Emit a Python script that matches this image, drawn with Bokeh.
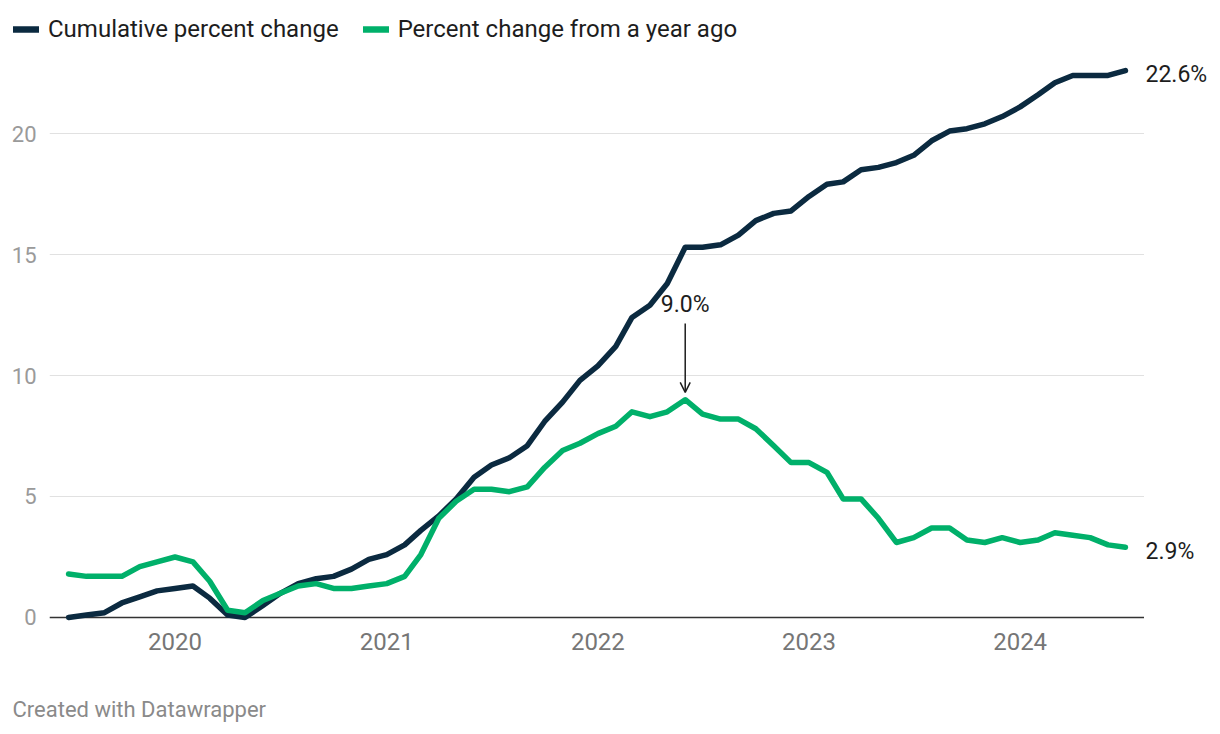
import pandas as pd
from bokeh.plotting import figure
from bokeh.layouts import column, row
from bokeh.models import (Range1d, FixedTicker, DatetimeTickFormatter, Span, Label,
                          Arrow, OpenHead, Legend, LegendItem, ColumnDataSource)
from bokeh.core.properties import value
from bokeh.embed import file_html
from bokeh.resources import INLINE

# ---------------- data ----------------
start_month = "2019-07-01"
cumulative = [0.0, 0.1, 0.2, 0.6, 0.85, 1.1, 1.2, 1.3, 0.8, 0.1,
              0.0, 0.5, 1.0, 1.4, 1.6, 1.7, 2.0, 2.4, 2.6, 3.0,
              3.6, 4.2, 4.9, 5.8, 6.3, 6.6, 7.1, 8.1, 8.9, 9.8,
              10.4, 11.2, 12.4, 12.9, 13.8, 15.3, 15.3, 15.4, 15.8, 16.4,
              16.7, 16.8, 17.4, 17.9, 18.0, 18.5, 18.6, 18.8, 19.1, 19.7,
              20.1, 20.2, 20.4, 20.7, 21.1, 21.6, 22.1, 22.4, 22.4, 22.4,
              22.6]
year_ago = [1.8, 1.7, 1.7, 1.7, 2.1, 2.3, 2.5, 2.3, 1.5, 0.3,
            0.2, 0.7, 1.0, 1.3, 1.4, 1.2, 1.2, 1.3, 1.4, 1.7,
            2.6, 4.1, 4.8, 5.3, 5.3, 5.2, 5.4, 6.2, 6.9, 7.2,
            7.6, 7.9, 8.5, 8.3, 8.5, 9.0, 8.4, 8.2, 8.2, 7.8,
            7.1, 6.4, 6.4, 6.0, 4.9, 4.9, 4.1, 3.1, 3.3, 3.7,
            3.7, 3.2, 3.1, 3.3, 3.1, 3.2, 3.5, 3.4, 3.3, 3.0,
            2.9]
series_names = ["Cumulative percent change", "Percent change from a year ago"]
tick_years = [2020, 2021, 2022, 2023, 2024]
y_ticks = [0, 5, 10, 15, 20]
footer_text = "Created with Datawrapper"

# ---------------- setup ----------------
DARK = "#0b2a40"
GREEN = "#00b06a"
FONT = "Roboto"
colors = [DARK, GREEN]
LW = 5.5

months = pd.date_range(start_month, periods=len(cumulative), freq="MS")
src = ColumnDataSource(dict(month=months, cum=cumulative, yoy=year_ago))

pad = pd.Timedelta(days=33)
x0 = (months[0] - pad).to_pydatetime()
x1 = (months[-1] + pad).to_pydatetime()
yr = Range1d(-0.62, 23.43)

def bare(fig):
    fig.outline_line_color = None
    fig.background_fill_color = "white"
    fig.border_fill_color = "white"
    return fig

# ---------------- legend strip ----------------
lg = bare(figure(width=1220, height=50, x_range=(0, 1220), y_range=(0, 50),
                 x_axis_location=None, y_axis_location=None,
                 output_backend="svg", toolbar_location=None,
                 min_border=0))
lg.grid.visible = False
# renderers that only lend their style to the legend (their points lie off-range)
leg_renderers = [lg.line(x=[-50, -40], y=[-50, -50], line_color=c, line_width=6.5,
                         line_cap="round")
                 for c in colors]
legend = Legend(items=[LegendItem(label=n, renderers=[r])
                       for n, r in zip(series_names, leg_renderers)],
                orientation="horizontal", location=(13, 7),
                border_line_color=None, background_fill_alpha=0,
                padding=0, margin=0, spacing=24,
                glyph_width=26, glyph_height=20, label_standoff=9,
                label_text_font=FONT, label_text_font_size="24px",
                label_text_color="#1d1d1d")
lg.add_layout(legend)

# ---------------- main chart ----------------
p = bare(figure(width=1144, height=634, x_axis_type="datetime",
                x_range=Range1d(x0, x1), y_range=yr,
                output_backend="svg", toolbar_location=None,
                min_border_left=49, min_border_right=0,
                min_border_top=0, min_border_bottom=52))

p.xgrid.grid_line_color = None
p.ygrid.grid_line_color = "#e1e1e1"
p.ygrid.grid_line_width = 1

p.yaxis.ticker = FixedTicker(ticks=y_ticks)
p.yaxis.axis_line_color = None
p.yaxis.major_tick_line_color = None
p.yaxis.minor_tick_line_color = None
p.yaxis.major_tick_out = 0
p.yaxis.major_label_standoff = 13
p.yaxis.major_label_text_font = FONT
p.yaxis.major_label_text_font_size = "22px"
p.yaxis.major_label_text_color = "#9a9a9a"

year_ticks = [pd.Timestamp(f"{y}-01-01").value / 1e6 for y in tick_years]
p.xaxis.ticker = FixedTicker(ticks=year_ticks)
p.xaxis.formatter = DatetimeTickFormatter(years="%Y", months="%Y", days="%Y",
                                          hours="%Y", minutes="%Y", seconds="%Y")
p.xaxis.axis_line_color = None
p.xaxis.major_tick_line_color = None
p.xaxis.minor_tick_line_color = None
p.xaxis.major_tick_out = 0
p.xaxis.major_label_standoff = 0
p.xaxis.major_label_text_font = FONT
p.xaxis.major_label_text_font_size = "24px"
p.xaxis.major_label_text_color = "#767676"

p.add_layout(Span(location=0, dimension="width", line_color="#333333",
                  line_width=1.5, level="underlay"))

r1 = p.line("month", "cum", source=src, line_color=DARK, line_width=LW,
            line_join="round", line_cap="round")
r2 = p.line("month", "yoy", source=src, line_color=GREEN, line_width=LW,
            line_join="round", line_cap="round")

# peak annotation
peak_i = max(range(len(year_ago)), key=lambda i: year_ago[i])
peak_x = months[peak_i].to_pydatetime()
peak_v = year_ago[peak_i]
p.add_layout(Arrow(x_start=peak_x, y_start=peak_v + 3.15,
                   x_end=peak_x, y_end=peak_v + 0.3,
                   line_color="#1d1d1d", line_width=1.5,
                   end=OpenHead(size=10, line_color="#1d1d1d", line_width=1.5)))
p.add_layout(Label(x=peak_x, y=peak_v + 3.95, text=f"{peak_v:.1f}%",
                   text_align="center", text_baseline="middle",
                   text_font=FONT, text_font_size="23px",
                   text_color="#1d1d1d"))

# ---------------- end-value labels (shares the y scale) ----------------
rt = bare(figure(width=76, height=634, x_range=(0, 76), y_range=yr,
                 x_axis_location=None, y_axis_location=None,
                 output_backend="svg", toolbar_location=None,
                 min_border_left=0, min_border_right=0,
                 min_border_top=0, min_border_bottom=52))
rt.grid.visible = False
end_vals = [cumulative[-1], year_ago[-1]]
rt.text(x=[1, 1], y=end_vals, text=[f"{v:.1f}%" for v in end_vals],
        y_offset=4, text_baseline="middle", text_align="left",
        text_font=value(FONT), text_font_size="23px", text_color="#1d1d1d")

# ---------------- footer ----------------
ft = bare(figure(width=1220, height=50, x_range=(0, 1220), y_range=(0, 50),
                 x_axis_location=None, y_axis_location=None,
                 output_backend="svg", toolbar_location=None, min_border=0))
ft.grid.visible = False
ft.text(x=[12], y=[25], text=[footer_text], text_baseline="middle",
        text_font=value(FONT), text_font_size="22px", text_color="#8a8a8a")

layout = column(lg, row(p, rt, spacing=0), ft, spacing=0)
open("out.html", "w").write(file_html(layout, INLINE))
